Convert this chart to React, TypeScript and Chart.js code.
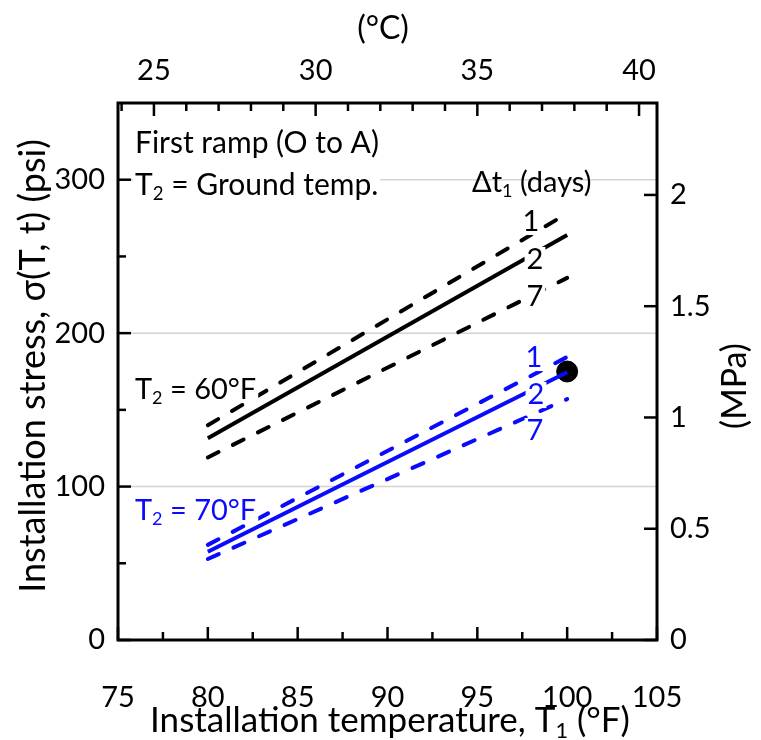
import React, { useEffect, useRef } from "react";
import { Chart, registerables } from "chart.js";
Chart.register(...registerables);

// ---- data ----
const tempF = [80, 100];
const black1 = [140, 278];
const black2 = [131.5, 264];
const black7 = [119, 236];
const blue1 = [62, 184.5];
const blue2 = [57.5, 174.5];
const blue7 = [52.8, 157];
const pointF = [100];
const pointPsi = [175];
const xTicksF = [75, 80, 85, 90, 95, 100, 105];
const xMinorF = [77.5, 82.5, 87.5, 92.5, 97.5, 102.5];
const xTicksC = [25, 30, 35, 40];
const xMinorC = [24, 26, 27, 28, 29, 31, 32, 33, 34, 36, 37, 38, 39];
const yTicksPsi = [0, 100, 200, 300];
const yMinorPsi = [50, 150, 250];
const gridPsi = [100, 200, 300];
const yTicksMPa = [0, 0.5, 1, 1.5, 2];
const PSI_PER_MPA = 145.038;

const BLACK = "#000000";
const BLUE = "#0a0aff";
const FONT = "Lato, 'Open Sans', sans-serif";

type Part = { t: string; sub?: boolean };

function richWidth(ctx: CanvasRenderingContext2D, parts: Part[], size: number) {
  let w = 0;
  for (const p of parts) {
    ctx.font = `${p.sub ? size * 0.62 : size}px ${FONT}`;
    w += ctx.measureText(p.t).width;
  }
  return w;
}

function drawRich(
  ctx: CanvasRenderingContext2D,
  parts: Part[],
  x: number,
  y: number,
  size: number,
  color: string,
  align: "left" | "center",
  bg?: boolean
) {
  const w = richWidth(ctx, parts, size);
  let cx = align === "center" ? x - w / 2 : x;
  if (bg) {
    ctx.fillStyle = "#ffffff";
    ctx.fillRect(cx - 2, y - size * 0.45, w + 4, size * 0.9);
  }
  ctx.fillStyle = color;
  ctx.textBaseline = "middle";
  ctx.textAlign = "left";
  for (const p of parts) {
    const s = p.sub ? size * 0.62 : size;
    ctx.font = `${s}px ${FONT}`;
    ctx.fillText(p.t, cx, p.sub ? y + size * 0.3 : y);
    cx += ctx.measureText(p.t).width;
  }
}

const decor = {
  id: "decor",
  beforeDatasetsDraw(chart: any) {
    const { ctx, chartArea: a, scales } = chart;
    ctx.save();
    ctx.strokeStyle = "#d4d4d4";
    ctx.lineWidth = 1.5;
    for (const v of gridPsi) {
      const y = scales.y.getPixelForValue(v);
      ctx.beginPath();
      ctx.moveTo(a.left, y);
      ctx.lineTo(a.right, y);
      ctx.stroke();
    }
    ctx.restore();
  },
  afterDatasetsDraw(chart: any) {
    const { ctx } = chart;
    ctx.save();
    const A = 30;
    drawRich(ctx, [{ t: "First ramp (O to A)" }], 135, 143, A, BLACK, "left");
    drawRich(ctx, [{ t: "T" }, { t: "2", sub: true }, { t: " = Ground temp." }], 135, 185, A, BLACK, "left", true);
    drawRich(ctx, [{ t: "Δt" }, { t: "1", sub: true }, { t: " (days)" }], 472, 183, 29, BLACK, "left");
    drawRich(ctx, [{ t: "1" }], 531, 222, 29, BLACK, "center", true);
    drawRich(ctx, [{ t: "2" }], 535, 260, 29, BLACK, "center", true);
    drawRich(ctx, [{ t: "7" }], 535, 297, 29, BLACK, "center", true);
    drawRich(ctx, [{ t: "T" }, { t: "2", sub: true }, { t: " = 60°F" }], 135, 390, 29, BLACK, "left", true);
    drawRich(ctx, [{ t: "T" }, { t: "2", sub: true }, { t: " = 70°F" }], 135, 511, 29, BLUE, "left", true);
    drawRich(ctx, [{ t: "1" }], 534, 358, 29, BLUE, "center", true);
    drawRich(ctx, [{ t: "2" }], 536, 395, 29, BLUE, "center", true);
    drawRich(ctx, [{ t: "7" }], 535, 431, 29, BLUE, "center", true);
    ctx.restore();
  },
  afterDraw(chart: any) {
    const { ctx, chartArea: a, scales } = chart;
    ctx.save();
    ctx.strokeStyle = "#000";
    ctx.lineCap = "butt";
    ctx.lineWidth = 2.5;
    const vt = (x: number, y0: number, len: number) => {
      ctx.beginPath();
      ctx.moveTo(x, y0);
      ctx.lineTo(x, y0 + len);
      ctx.stroke();
    };
    const ht = (y: number, x0: number, len: number) => {
      ctx.beginPath();
      ctx.moveTo(x0, y);
      ctx.lineTo(x0 + len, y);
      ctx.stroke();
    };
    for (const v of xTicksF) vt(scales.x.getPixelForValue(v), a.bottom, -13);
    for (const v of xMinorF) vt(scales.x.getPixelForValue(v), a.bottom, -8);
    for (const v of xTicksC) vt(scales.xC.getPixelForValue(v), a.top, 13);
    for (const v of xMinorC) vt(scales.xC.getPixelForValue(v), a.top, 8);
    for (const v of yTicksPsi) ht(scales.y.getPixelForValue(v), a.left, 13);
    for (const v of yMinorPsi) ht(scales.y.getPixelForValue(v), a.left, 8);
    for (const v of yTicksMPa) ht(scales.yM.getPixelForValue(v), a.right, -13);
    ctx.lineWidth = 3;
    ctx.strokeRect(a.left, a.top, a.right - a.left, a.bottom - a.top);
    drawRich(ctx, [{ t: "(°C)" }], 383, 29, 32, BLACK, "center");
    drawRich(
      ctx,
      [{ t: "Installation temperature, T" }, { t: "1", sub: true }, { t: " (°F)" }],
      390,
      721,
      35,
      BLACK,
      "center"
    );
    ctx.save();
    ctx.translate(33, 366);
    ctx.rotate(-Math.PI / 2);
    drawRich(ctx, [{ t: "Installation stress, σ(T, t) (psi)" }], 0, 0, 36, BLACK, "center");
    ctx.restore();
    ctx.save();
    ctx.translate(735, 386);
    ctx.rotate(-Math.PI / 2);
    drawRich(ctx, [{ t: "(MPa)" }], 0, 0, 34, BLACK, "center");
    ctx.restore();
    ctx.restore();
  },
};

function lineSet(vals: number[], color: string, dash: number[], width: number) {
  return {
    type: "line",
    data: tempF.map((x, i) => ({ x, y: vals[i] })),
    borderColor: color,
    borderWidth: width,
    borderDash: dash,
    borderCapStyle: dash.length ? "round" : "butt",
    pointRadius: 0,
    fill: false,
    tension: 0,
    xAxisID: "x",
    yAxisID: "y",
  };
}

const tickFont = { family: FONT, size: 29 };

export default function App() {
  const ref = useRef<HTMLCanvasElement>(null);
  useEffect(() => {
    const canvas = ref.current!;
    const chart = new Chart(canvas, {
      type: "line",
      data: {
        datasets: [
          lineSet(black1, BLACK, [12, 16], 4),
          lineSet(black2, BLACK, [], 4),
          lineSet(black7, BLACK, [12, 16], 4),
          lineSet(blue1, BLUE, [12, 16], 4),
          lineSet(blue2, BLUE, [], 4),
          lineSet(blue7, BLUE, [12, 16], 4),
          {
            type: "scatter",
            data: pointF.map((x, i) => ({ x, y: pointPsi[i] })),
            pointRadius: 10.5,
            backgroundColor: BLACK,
            borderColor: BLACK,
            xAxisID: "x",
            yAxisID: "y",
          },
        ] as any,
      },
      options: {
        animation: false,
        responsive: false,
        events: [],
        layout: { padding: 0 },
        plugins: { legend: { display: false }, tooltip: { enabled: false } },
        scales: {
          x: {
            type: "linear",
            position: "bottom",
            min: 75,
            max: 105,
            afterBuildTicks: (s: any) => {
              s.ticks = xTicksF.map((v) => ({ value: v }));
            },
            afterFit: (s: any) => {
              s.height = 100;
            },
            grid: { display: false, drawTicks: false },
            border: { display: false },
            ticks: { font: tickFont, color: "#000", padding: 40, autoSkip: false, maxRotation: 0 },
          },
          xC: {
            type: "linear",
            position: "top",
            min: (75 - 32) / 1.8,
            max: (105 - 32) / 1.8,
            afterBuildTicks: (s: any) => {
              s.ticks = xTicksC.map((v) => ({ value: v }));
            },
            afterFit: (s: any) => {
              s.height = 103;
            },
            grid: { display: false, drawTicks: false },
            border: { display: false },
            ticks: { font: tickFont, color: "#000", padding: 15, autoSkip: false, maxRotation: 0 },
          },
          y: {
            type: "linear",
            position: "left",
            min: 0,
            max: 350,
            afterBuildTicks: (s: any) => {
              s.ticks = yTicksPsi.map((v) => ({ value: v }));
            },
            afterFit: (s: any) => {
              s.width = 118;
            },
            grid: { display: false, drawTicks: false },
            border: { display: false },
            ticks: { font: tickFont, color: "#000", padding: 13, autoSkip: false },
          },
          yM: {
            type: "linear",
            position: "right",
            min: 0,
            max: 350 / PSI_PER_MPA,
            afterBuildTicks: (s: any) => {
              s.ticks = yTicksMPa.map((v) => ({ value: v }));
            },
            afterFit: (s: any) => {
              s.width = 104;
            },
            grid: { display: false, drawTicks: false },
            border: { display: false },
            ticks: {
              font: tickFont,
              color: "#000",
              padding: 13,
              autoSkip: false,
              callback: (v: any) => String(v),
            },
          },
        },
      } as any,
      plugins: [decor as any],
    });
    return () => chart.destroy();
  }, []);
  return (
    <div style={{ position: "absolute", left: 0, top: 0, width: 761, height: 740, background: "#fff" }}>
      <canvas ref={ref} width={761} height={740} style={{ display: "block" }} />
    </div>
  );
}
